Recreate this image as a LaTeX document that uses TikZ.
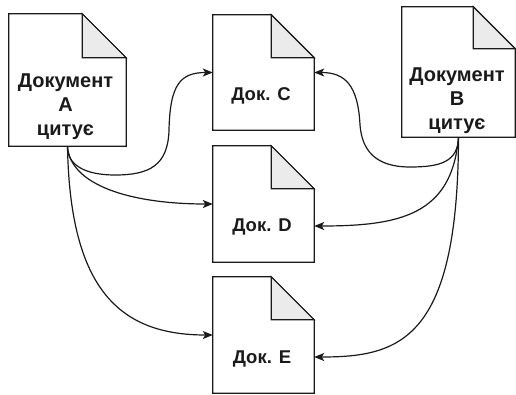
\documentclass[tikz,border=0pt]{standalone}
\usepackage{fontspec}
\setmainfont{Liberation Sans}
\usetikzlibrary{arrows.meta,calc}
\definecolor{foldgray}{HTML}{EBEBEB}
\definecolor{inkgray}{HTML}{1A1A1A}
\tikzset{
  docbox/.style={rectangle, inner sep=0pt, draw=none},
  doclabel/.style={inner sep=0pt, align=center, text=inkgray,
    font=\bfseries\fontsize{18.5}{22}\selectfont},
  biglabel/.style={doclabel, anchor=north,
    font=\bfseries\fontsize{20}{24}\selectfont},
  cite/.style={line width=1.2pt, draw=inkgray,
    -{Stealth[length=10pt,width=8pt,inset=2.5pt]}}
}
\begin{document}
\begin{tikzpicture}[x=1pt,y=-1pt]
\useasboundingbox[fill=white] (0,0) rectangle (516,394);

% document frames (empty nodes, outlines drawn below)
\node[docbox, minimum width=117pt, minimum height=132pt] (docA) at (67.5,80) {};
\node[docbox, minimum width=113pt, minimum height=130pt] (docB) at (458.5,72) {};
\node[docbox, minimum width=101pt, minimum height=115pt] (docC) at (263.5,72.5) {};
\node[docbox, minimum width=101pt, minimum height=116pt] (docD) at (263.5,204) {};
\node[docbox, minimum width=101pt, minimum height=116pt] (docE) at (263.5,335) {};

% page outline with a folded top-right corner
\foreach \n/\f in {docA/44,docB/42,docC/43,docD/43,docE/43}{
  \filldraw[line width=1.2pt, draw=inkgray, fill=white]
    (\n.south west) -- (\n.south east) -- ($(\n.north east)+(0,\f)$)
    -- ($(\n.north east)+(-\f,0)$) -- (\n.north west) -- cycle;
  \filldraw[line width=1.2pt, draw=inkgray, fill=foldgray, line join=miter]
    ($(\n.north east)+(-\f,0)$) -- ($(\n.north east)+(-\f,\f)$)
    -- ($(\n.north east)+(0,\f)$) -- cycle;
}

% labels
\node[biglabel] (labA) at (65.5,74) {Документ\\А\\цитує};
\node[biglabel] (labB) at (457,68) {Документ\\В\\цитує};
\node[doclabel] (labC) at (261,96) {Док. С};
\node[doclabel] (labD) at (262,227) {Док. D};
\node[doclabel] (labE) at (262,359) {Док. E};

% citations from A
\draw[cite] (docA.south) .. controls (67,165) and (85,175) .. (115,175)
  .. controls (150,175) and (168,165) .. (169,130)
  .. controls (170,85) and (180,72.5) .. (docC.west);
\draw[cite] (docA.south) .. controls (70,185) and (130,204) .. (docD.west);
\draw[cite] (docA.south) .. controls (70,290) and (120,335) .. (docE.west);

% citations from B
\coordinate (inD) at ($(docD.east)+(0,22)$);
\coordinate (inE) at ($(docE.east)+(0,22)$);
\draw[cite] (docB.south) .. controls (458,162) and (440,167) .. (410,167)
  .. controls (375,167) and (362,150) .. (360,125)
  .. controls (358,85) and (345,72.5) .. (docC.east);
\draw[cite] (docB.south) .. controls (452,215) and (400,226) .. (inD);
\draw[cite] (docB.south) .. controls (458,340) and (400,357) .. (inE);
\end{tikzpicture}
\end{document}
